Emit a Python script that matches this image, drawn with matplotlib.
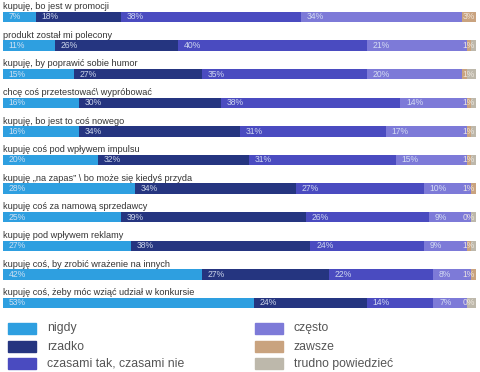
import matplotlib.pyplot as plt
from matplotlib.patches import Rectangle

plt.rcParams['font.family'] = ['Liberation Sans', 'DejaVu Sans']

# data
questions = [
    "kupuję, bo jest w promocji",
    "produkt został mi polecony",
    "kupuję, by poprawić sobie humor",
    "chcę coś przetestować\\ wypróbować",
    "kupuję, bo jest to coś nowego",
    "kupuję coś pod wpływem impulsu",
    "kupuję „na zapas” \\ bo może się kiedyś przyda",
    "kupuję coś za namową sprzedawcy",
    "kupuję pod wpływem reklamy",
    "kupuję coś, by zrobić wrażenie na innych",
    "kupuję coś, żeby móc wziąć udział w konkursie",
]
answers = ["nigdy", "rzadko", "czasami tak, czasami nie",
           "często", "zawsze", "trudno powiedzieć"]
nigdy = [7, 11, 15, 16, 16, 20, 28, 25, 27, 42, 53]
rzadko = [18, 26, 27, 30, 34, 32, 34, 39, 38, 27, 24]
czasami = [38, 40, 35, 38, 31, 31, 27, 26, 24, 22, 14]
czesto = [34, 21, 20, 14, 17, 15, 10, 9, 9, 8, 7]
zawsze = [3, 1, 1, 1, 1, 1, 1, 0, 1, 1, 0]
colors = ["#2e9fe0", "#253580", "#4a4bc0", "#7d7ad8", "#c9a37f", "#bdb8ab"]

series = [nigdy, rzadko, czasami, czesto, zawsze]
# remainder up to 100% goes to "trudno powiedzieć"
trudno = [max(0, 100 - sum(s[i] for s in series)) for i in range(len(questions))]
all_series = series + [trudno]

fig = plt.figure(figsize=(4.8, 3.72), dpi=100)
ax = fig.add_axes([3 / 480, 57 / 372, 473 / 480, 315 / 372])
ax.set_xlim(0, 100)
ax.set_ylim(10.42, -0.594)
ax.axis("off")

y = list(range(len(questions)))
left = [0] * len(questions)
for k, vals in enumerate(all_series):
    ax.barh(y, vals, left=left, height=0.36, color=colors[k], linewidth=0)
    if k < 4:
        for i, v in enumerate(vals):
            ax.text(left[i] + 1.2, i, f"{v}%", fontsize=6.2, color="#dde6f5",
                    va="center", ha="left", alpha=0.9)
    elif k == 4:
        # last small values sit at the end of the bar
        for i, v in enumerate(vals):
            ax.text(99.7, i, f"{v}%", fontsize=6.2, color="#f3ece4",
                    va="center", ha="right", alpha=0.9)
    left = [l + v for l, v in zip(left, vals)]

for i, q in enumerate(questions):
    ax.text(0, i - 0.27, q, fontsize=6.6, color="#333333", ha="left",
            va="baseline")

# legend
rows = [328.5, 346.5, 363.5]
for k, name in enumerate(answers):
    col, row = divmod(k, 3)
    x0 = 8 if col == 0 else 255
    yc = rows[row]
    fig.add_artist(Rectangle((x0 / 480, 1 - (yc + 5.5) / 372), 28 / 480, 11 / 372,
                             color=colors[k], transform=fig.transFigure))
    fig.text((x0 + 39) / 480, 1 - yc / 372, name, fontsize=8.8, color="#555555",
             va="center", ha="left")

fig.savefig("out.png", dpi=100, facecolor="white")
